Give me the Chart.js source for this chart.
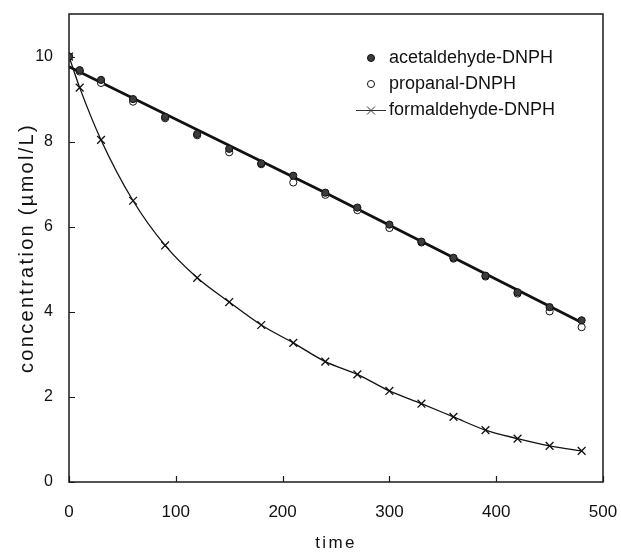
<!DOCTYPE html>
<html>
<head>
<meta charset="utf-8">
<script src="https://cdn.jsdelivr.net/npm/chart.js@4"></script>
<style>
  html, body { margin: 0; padding: 0; background: #fff; }
  #wrap { width: 621px; height: 552px; }
</style>
</head>
<body>
<div id="wrap"><canvas id="lineChart" width="621" height="552"></canvas></div>
<script>
// values
const times = [0, 10, 30, 60, 90, 120, 150, 180, 210, 240, 270, 300, 330, 360, 390, 420, 450, 480];
const acetaldehyde = [10.0, 9.68, 9.45, 9.00, 8.58, 8.18, 7.83, 7.49, 7.20, 6.80, 6.45, 6.05, 5.65, 5.27, 4.85, 4.46, 4.11, 3.80];
const propanal = [10.0, 9.65, 9.38, 8.94, 8.55, 8.15, 7.75, 7.47, 7.04, 6.75, 6.39, 5.97, 5.63, 5.25, 4.83, 4.43, 4.01, 3.64];
const formaldehyde = [10.0, 9.27, 8.04, 6.61, 5.56, 4.80, 4.23, 3.69, 3.27, 2.83, 2.53, 2.14, 1.84, 1.53, 1.22, 1.02, 0.85, 0.73];
// straight fitted line through the acetaldehyde / propanal points
const fitTimes = [0, 240, 480];
const fitValues = [9.76, 6.80, 3.75];
const xTickValues = [0, 100, 200, 300, 400, 500];
const yTickValues = [0, 2, 4, 6, 8, 10];

const pts = (xs, ys) => xs.map((x, i) => ({ x: x, y: ys[i] }));
const FONT = 'Liberation Sans, Arial, Helvetica, sans-serif';

// little "-x-" picture for the formaldehyde legend entry
const legendMark = document.createElement('canvas');
legendMark.width = 30;
legendMark.height = 12;
(function () {
    const c = legendMark.getContext('2d');
    c.strokeStyle = '#333';
    c.lineWidth = 1;
    c.beginPath();
    c.moveTo(0, 6.5); c.lineTo(30, 6.5);
    c.moveTo(11, 2.5); c.lineTo(19, 10.5);
    c.moveTo(19, 2.5); c.lineTo(11, 10.5);
    c.stroke();
})();

const framePlugin = {
    id: 'frame',
    afterLayout(chart) {
        // legend sits inside the plot, top right
        chart.legend.left = 354;
        chart.legend.top = 41;
    },
    beforeDraw(chart) {
        chart.ctx.letterSpacing = '0px';
    },
    beforeDatasetsDraw(chart) {
        const { ctx, chartArea: a, scales } = chart;
        ctx.save();
        ctx.strokeStyle = '#1a1a1a';
        ctx.lineWidth = 1.5;
        ctx.strokeRect(a.left, a.top, a.right - a.left, a.bottom - a.top);
        ctx.lineWidth = 1.2;
        ctx.beginPath();
        scales.x.ticks.forEach(t => {
            const px = Math.round(scales.x.getPixelForValue(t.value)) + 0.5;
            ctx.moveTo(px, a.bottom); ctx.lineTo(px, a.bottom - 6);
        });
        scales.y.ticks.forEach(t => {
            const py = Math.round(scales.y.getPixelForValue(t.value)) + 0.5;
            ctx.moveTo(a.left, py); ctx.lineTo(a.left + 6, py);
        });
        ctx.stroke();
        ctx.restore();
    },
    afterDatasetsDraw(chart) {
        // axis titles are drawn after this, a bit wider spaced
        chart.ctx.letterSpacing = '2.3px';
    },
    afterDraw(chart) {
        chart.ctx.letterSpacing = '0px';
    }
};

Chart.defaults.color = '#111';
Chart.defaults.font.family = FONT;

const ctx = document.getElementById('lineChart').getContext('2d');
const chart = new Chart(ctx, {
    type: 'scatter',
    data: {
        datasets: [
            {
                label: 'acetaldehyde-DNPH',
                data: pts(times, acetaldehyde),
                showLine: false,
                pointStyle: 'circle',
                pointRadius: 3.6,
                pointBackgroundColor: '#3c3c3c',
                pointBorderColor: '#111',
                pointBorderWidth: 1,
                backgroundColor: '#3c3c3c',
                borderColor: '#111',
                borderWidth: 1
            },
            {
                label: 'propanal-DNPH',
                data: pts(times, propanal),
                showLine: false,
                pointStyle: 'circle',
                pointRadius: 3.6,
                pointBackgroundColor: '#fff',
                pointBorderColor: '#111',
                pointBorderWidth: 1,
                backgroundColor: '#fff',
                borderColor: '#111',
                borderWidth: 1
            },
            {
                label: 'formaldehyde-DNPH',
                data: pts(times, formaldehyde),
                showLine: true,
                cubicInterpolationMode: 'monotone',
                borderColor: '#111',
                borderWidth: 1.3,
                pointStyle: 'crossRot',
                pointRadius: 5.5,
                pointBorderColor: '#111',
                pointBorderWidth: 1.3,
                fill: false
            },
            {
                label: 'fit',
                data: pts(fitTimes, fitValues),
                showLine: true,
                borderColor: '#111',
                borderWidth: 2.8,
                pointRadius: 0,
                fill: false
            }
        ]
    },
    options: {
        responsive: false,
        animation: false,
        devicePixelRatio: 1,
        layout: { padding: { left: 0, top: 14, right: 18, bottom: 0 } },
        scales: {
            x: {
                type: 'linear',
                min: 0,
                max: 500,
                afterBuildTicks: s => { s.ticks = xTickValues.map(v => ({ value: v })); },
                afterFit: s => { s.height = 70; s.paddingLeft = 0; s.paddingRight = 0; },
                grid: { display: false, drawTicks: false, z: 1 },
                border: { display: false },
                ticks: { padding: 20, font: { size: 17 }, color: '#111', maxRotation: 0 },
                title: {
                    display: true,
                    text: 'time',
                    font: { size: 17, lineHeight: 1 },
                    padding: { top: 0, bottom: 0 },
                    color: '#111'
                }
            },
            y: {
                type: 'linear',
                min: 0,
                max: 11,
                afterBuildTicks: s => { s.ticks = yTickValues.map(v => ({ value: v })); },
                afterFit: s => { s.width = 69; s.paddingTop = 0; s.paddingBottom = 0; },
                grid: { display: false, drawTicks: false, z: 1 },
                border: { display: false },
                ticks: { padding: 16, font: { size: 16 }, color: '#111' },
                title: {
                    display: true,
                    text: 'concentration (µmol/L)',
                    font: { size: 20, lineHeight: 1.2 },
                    padding: { top: 15, bottom: 0 },
                    color: '#111'
                }
            }
        },
        plugins: {
            legend: {
                display: true,
                position: 'chartArea',
                align: 'start',
                labels: {
                    usePointStyle: true,
                    boxWidth: 24,
                    boxHeight: 5,
                    padding: 8,
                    color: '#111',
                    font: { size: 18 },
                    generateLabels: function (chart) {
                        const items = Chart.defaults.plugins.legend.labels.generateLabels(chart);
                        items.forEach(item => {
                            if (item.text === 'formaldehyde-DNPH') item.pointStyle = legendMark;
                        });
                        return items;
                    },
                    filter: function (item) {
                        return item.text !== 'fit';
                    }
                }
            },
            tooltip: { enabled: false }
        }
    },
    plugins: [framePlugin]
});
</script>
</body>
</html>
